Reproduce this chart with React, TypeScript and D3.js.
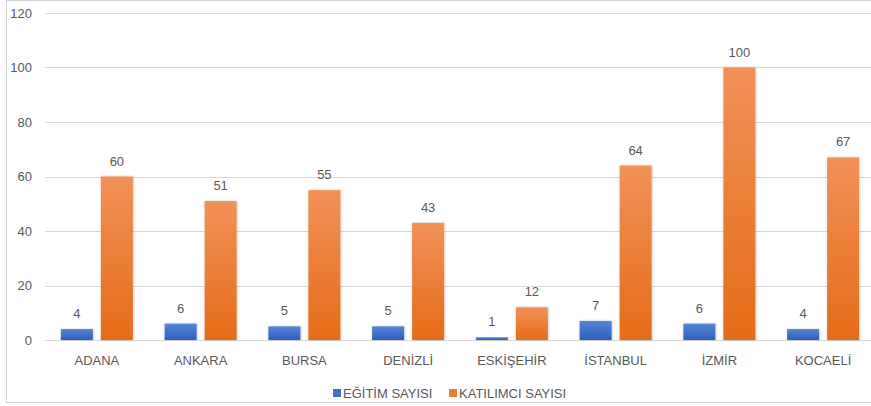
import { useRef, useEffect } from "react";
import { select, scaleBand, scaleLinear } from "d3";

const cities = ["ADANA", "ANKARA", "BURSA", "DENİZLİ", "ESKİŞEHİR", "İSTANBUL", "İZMİR", "KOCAELİ"];
const egitim = [4, 6, 5, 5, 1, 7, 6, 4];
const katilimci = [60, 51, 55, 43, 12, 64, 100, 67];
const yTicks = [0, 20, 40, 60, 80, 100, 120];
const seriesNames = ["EĞİTİM SAYISI", "KATILIMCI SAYISI"];

const W = 871;
const H = 406;
const FONT = "'Liberation Sans', Arial, sans-serif";
const TXT = "#595959";

export default function App() {
  const ref = useRef<SVGSVGElement | null>(null);

  useEffect(() => {
    const svg = select(ref.current!);
    svg.selectAll("*").remove();

    //gradients
    const defs = svg.append("defs");
    const grads = [
      { id: "gBlue", top: "#5685D6", bottom: "#2C5FBE" },
      { id: "gOrange", top: "#F19158", bottom: "#E56C18" },
    ];
    grads.forEach((g) => {
      const lg = defs
        .append("linearGradient")
        .attr("id", g.id)
        .attr("x1", 0)
        .attr("y1", 0)
        .attr("x2", 0)
        .attr("y2", 1);
      lg.append("stop").attr("offset", "0%").attr("stop-color", g.top);
      lg.append("stop").attr("offset", "100%").attr("stop-color", g.bottom);
    });
    const f = defs.append("filter").attr("id", "shadow").attr("x", "-20%").attr("y", "-5%").attr("width", "140%").attr("height", "110%");
    f.append("feDropShadow").attr("dx", 0.5).attr("dy", 0).attr("stdDeviation", 1).attr("flood-color", "#000").attr("flood-opacity", 0.25);

    //chart border
    svg
      .append("rect")
      .attr("x", 6.5)
      .attr("y", 0.5)
      .attr("width", 880)
      .attr("height", 402)
      .attr("fill", "#fff")
      .attr("stroke", "#D0D0D0");

    //scales
    const y = scaleLinear().domain([0, 120]).range([340, 13]);
    const x = scaleBand<string>().domain(cities).range([45, 875]).padding(0);
    const groupPad = (x.bandwidth() - 72) / 2;
    const xi = scaleBand<string>()
      .domain(seriesNames)
      .range([groupPad, x.bandwidth() - groupPad])
      .paddingInner(0.2);

    //grid + y labels
    const grid = svg.append("g");
    yTicks.forEach((t) => {
      grid
        .append("line")
        .attr("x1", 45)
        .attr("x2", 875)
        .attr("y1", Math.round(y(t)) + 0.5)
        .attr("y2", Math.round(y(t)) + 0.5)
        .attr("stroke", "#D9D9D9")
        .attr("stroke-width", 1);
      grid
        .append("text")
        .attr("x", 32)
        .attr("y", y(t))
        .attr("dy", "0.35em")
        .attr("text-anchor", "end")
        .attr("font-family", FONT)
        .attr("font-size", 13)
        .attr("fill", TXT)
        .text(t);
    });

    //bars
    const series = [
      { name: seriesNames[0], values: egitim, fill: "url(#gBlue)" },
      { name: seriesNames[1], values: katilimci, fill: "url(#gOrange)" },
    ];
    series.forEach((s) => {
      const g = svg.append("g");
      g.selectAll("rect")
        .data(s.values)
        .join("rect")
        .attr("x", (_d, i) => x(cities[i])! + xi(s.name)!)
        .attr("y", (d) => y(d))
        .attr("width", xi.bandwidth())
        .attr("height", (d) => y(0) - y(d))
        .attr("fill", s.fill)
        .attr("filter", "url(#shadow)");
      g.selectAll("text")
        .data(s.values)
        .join("text")
        .attr("x", (_d, i) => x(cities[i])! + xi(s.name)! + xi.bandwidth() / 2)
        .attr("y", (d) => y(d) - 11)
        .attr("text-anchor", "middle")
        .attr("font-family", FONT)
        .attr("font-size", 13)
        .attr("fill", TXT)
        .text((d) => d);
    });

    //category labels
    svg
      .append("g")
      .selectAll("text")
      .data(cities)
      .join("text")
      .attr("x", (d) => x(d)! + x.bandwidth() / 2)
      .attr("y", 365)
      .attr("text-anchor", "middle")
      .attr("font-family", FONT)
      .attr("font-size", 13)
      .attr("fill", TXT)
      .text((d) => d);

    //legend
    const legend = [
      { name: seriesNames[0], color: "#4472C4", x: 333 },
      { name: seriesNames[1], color: "#ED7D31", x: 449 },
    ];
    legend.forEach((l) => {
      svg.append("rect").attr("x", l.x).attr("y", 389).attr("width", 8).attr("height", 8).attr("fill", l.color);
      svg
        .append("text")
        .attr("x", l.x + 10)
        .attr("y", 393)
        .attr("dy", "0.35em")
        .attr("font-family", FONT)
        .attr("font-size", 13)
        .attr("fill", TXT)
        .text(l.name);
    });
  }, []);

  return (
    <svg
      ref={ref}
      width={W}
      height={H}
      style={{ position: "absolute", left: 0, top: 0, background: "#fff" }}
    ></svg>
  );
}
